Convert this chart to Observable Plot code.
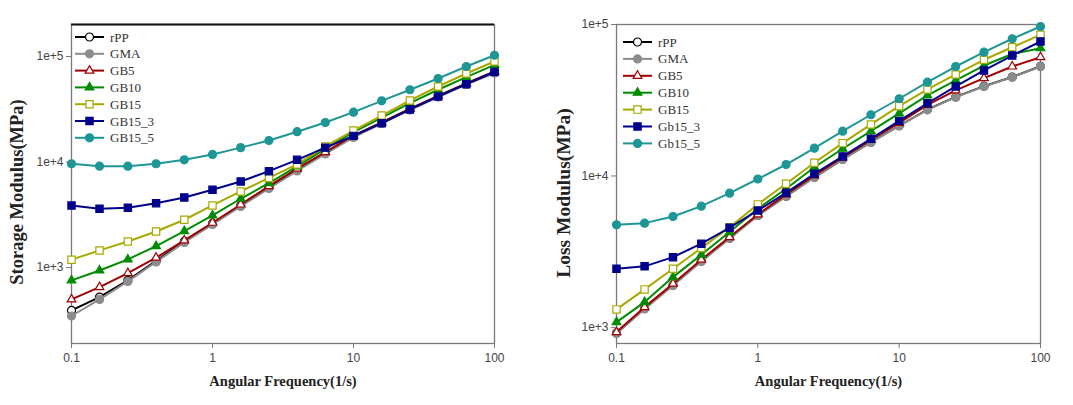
<!DOCTYPE html>
<html>
<head>
<meta charset="utf-8">
<script src="https://cdn.jsdelivr.net/npm/d3@7"></script>
<script src="https://cdn.jsdelivr.net/npm/@observablehq/plot@0.6"></script>
<style>
  html, body { margin: 0; padding: 0; background: #fff; }
  #wrap { position: relative; width: 1073px; height: 405px; display: flex; }
  .panel { position: relative; }
  .legend { position: absolute; left: 0; top: 0; pointer-events: none; }
</style>
</head>
<body>
<div id="wrap"></div>
<script>
// ---------- data ----------
const freq = [0.1, 0.158, 0.251, 0.398, 0.631, 1, 1.585, 2.512, 3.981, 6.31, 10, 15.85, 25.12, 39.81, 63.1, 100];

const storageNames = ["rPP", "GMA", "GB5", "GB10", "GB15", "GB15_3", "GB15_5"];
const storage_rPP    = [393, 526, 757, 1157, 1770, 2620, 3880, 5740, 8420, 12200, 17700, 23700, 31800, 42300, 55500, 72100];
const storage_GMA    = [348, 500, 740, 1132, 1733, 2566, 3800, 5620, 8240, 11940, 17100, 23200, 31100, 41300, 54300, 69800];
const storage_GB5    = [500, 653, 887, 1241, 1810, 2660, 3960, 5910, 8650, 12400, 17900, 23600, 31800, 42200, 55200, 72000];
const storage_GB10   = [757, 940, 1196, 1600, 2220, 3120, 4490, 6310, 9090, 13360, 19200, 26300, 36100, 48400, 63700, 83400];
const storage_GB15   = [1189, 1455, 1770, 2200, 2840, 3880, 5270, 7070, 9490, 14060, 19900, 27600, 38300, 52000, 69000, 89700];
const storage_GB15_3 = [3880, 3610, 3690, 4080, 4620, 5470, 6550, 8200, 10500, 13700, 17700, 23300, 31500, 41800, 54700, 71300];
const storage_GB15_5 = [9640, 9140, 9140, 9640, 10500, 11800, 13700, 16000, 19400, 23700, 29700, 38000, 48400, 61900, 80400, 102800];

const lossNames = ["rPP", "GMA", "GB5", "GB10", "GB15", "Gb15_3", "Gb15_5"];
const loss_rPP    = [920, 1335, 1900, 2740, 3880, 5490, 7340, 9800, 12880, 16700, 21450, 27450, 33250, 39150, 45000, 53000];
const loss_GMA    = [912, 1325, 1893, 2727, 3868, 5486, 7320, 9780, 12840, 16650, 21380, 27350, 33130, 38960, 44900, 52800];
const loss_GB5    = [931, 1361, 1943, 2800, 3950, 5570, 7550, 10080, 13240, 17280, 22390, 29500, 36700, 44200, 52800, 60800];
const loss_GB10   = [1084, 1469, 2148, 3020, 4260, 6070, 8230, 11420, 15120, 19760, 25860, 34000, 42700, 53600, 63900, 69700];
const loss_GB15   = [1315, 1782, 2440, 3340, 4590, 6490, 8890, 12220, 16470, 21880, 28900, 37240, 46800, 58500, 70800, 85500];
const loss_Gb15_3 = [2440, 2530, 2910, 3570, 4550, 5920, 7740, 10340, 13450, 17600, 23100, 30200, 39000, 49700, 62400, 77200];
const loss_Gb15_5 = [4760, 4880, 5400, 6320, 7700, 9550, 11900, 15250, 19760, 25360, 32340, 41600, 52800, 65700, 80500, 97000];

const xTicks = [0.1, 1, 10, 100];
const xTickLabels = ["0.1", "1", "10", "100"];
const yTicks = [1e3, 1e4, 1e5];
const yTickLabels = ["1e+3", "1e+4", "1e+5"];

const xTitle = "Angular Frequency(1/s)";
const yTitleLeft = "Storage Modulus(MPa)";
const yTitleRight = "Loss Modulus(MPa)";

// ---------- styles ----------
const styles = [
  {color: "#000000", symbol: "circle",   fill: "#ffffff"},
  {color: "#8c8c8c", symbol: "circle",   fill: "#8c8c8c"},
  {color: "#a00000", symbol: "triangle", fill: "#ffffff"},
  {color: "#008c00", symbol: "triangle", fill: "#008c00"},
  {color: "#a8a800", symbol: "square",   fill: "#ffffff"},
  {color: "#00008c", symbol: "square",   fill: "#00008c"},
  {color: "#1e9696", symbol: "circle",   fill: "#1e9696"}
];
const symR = {circle: 4, triangle: 3.2, square: 4.1};

function buildRows(names, arrays) {
  const out = [];
  names.forEach((n, i) => arrays[i].forEach((v, j) => out.push({series: n, idx: i, x: freq[j], y: v})));
  return out;
}

function panel(cfg) {
  const rows = buildRows(cfg.names, cfg.arrays);
  const marks = [
    Plot.frame({stroke: "#7a7a7a", strokeWidth: 1.3})
  ];
  if (cfg.topBlack) marks.push(Plot.ruleY([cfg.yDomain[1]], {stroke: "#111", strokeWidth: 2.2}));
  cfg.names.forEach((n, i) => {
    const d = rows.filter(r => r.idx === i);
    const s = styles[i];
    marks.push(Plot.line(d, {x: "x", y: "y", stroke: s.color, strokeWidth: 2}));
    marks.push(Plot.dot(d, {x: "x", y: "y", symbol: () => s.symbol, r: symR[s.symbol], fill: s.fill, stroke: s.color, strokeWidth: 1.2}));
  });
  marks.push(Plot.axisX({ticks: xTicks, tickFormat: (d, i) => xTickLabels[xTicks.indexOf(d)], tickSize: 5, tickPadding: 5, label: null, stroke: "#7a7a7a", fill: "#444"}));
  marks.push(Plot.axisY({ticks: yTicks, tickFormat: d => yTickLabels[yTicks.indexOf(d)], tickSize: 5, tickPadding: 3, label: null, stroke: "#7a7a7a", fill: "#444"}));
  marks.push(Plot.text([xTitle], {frameAnchor: "bottom", dy: 42, text: d => d, fontFamily: "Liberation Serif", fontWeight: "bold", fontSize: 14.5, fill: "#222"}));
  marks.push(Plot.text([cfg.yTitle], {frameAnchor: "left", textAnchor: "middle", dx: cfg.yTitleDx, dy: cfg.yTitleDy, rotate: -90, text: d => d, fontFamily: "Liberation Serif", fontWeight: "bold", fontSize: cfg.yTitleSize, fill: "#222"}));
  const chart = Plot.plot({
    width: cfg.width, height: 405,
    marginLeft: cfg.ml, marginRight: cfg.mr, marginTop: 24, marginBottom: 62,
    style: {fontFamily: "Liberation Sans, Arial, sans-serif", fontSize: "12px", background: "#fff", overflow: "visible"},
    x: {type: "log", domain: [0.1, 100]},
    y: {type: "log", domain: cfg.yDomain},
    marks
  });
  const div = document.createElement("div");
  div.className = "panel";
  div.style.width = cfg.width + "px";
  div.appendChild(chart);

  // legend overlay
  const lg = d3.select(div).append("svg").attr("class", "legend")
    .attr("width", cfg.width).attr("height", 405);
  cfg.names.forEach((n, i) => {
    const s = styles[i];
    const y = cfg.legY + i * cfg.legStep;
    const g = lg.append("g");
    g.append("line").attr("x1", cfg.legX).attr("x2", cfg.legX + 29).attr("y1", y).attr("y2", y)
      .attr("stroke", s.color).attr("stroke-width", 2);
    const area = Math.PI * symR[s.symbol] ** 2;
    const sym = s.symbol === "circle" ? d3.symbolCircle : s.symbol === "square" ? d3.symbolSquare : d3.symbolTriangle;
    g.append("path").attr("d", d3.symbol(sym, area)())
      .attr("transform", `translate(${cfg.legX + 14.5},${y})`)
      .attr("fill", s.fill).attr("stroke", s.color).attr("stroke-width", 1.2);
    g.append("text").attr("x", cfg.legX + 35).attr("y", y).attr("dy", "0.35em")
      .attr("font-family", "Liberation Serif").attr("font-size", 13).attr("fill", "#333").text(n);
  });
  return div;
}

const wrap = document.getElementById("wrap");
wrap.appendChild(panel({
  names: storageNames,
  arrays: [storage_rPP, storage_GMA, storage_GB5, storage_GB10, storage_GB15, storage_GB15_3, storage_GB15_5],
  yDomain: [191, 201000], width: 536, ml: 71, mr: 42, topBlack: true,
  yTitle: yTitleLeft, yTitleDx: -54, yTitleDy: 8, yTitleSize: 18.5, legX: 75, legY: 37, legStep: 16.8
}));
wrap.appendChild(panel({
  names: lossNames,
  arrays: [loss_rPP, loss_GMA, loss_GB5, loss_GB10, loss_GB15, loss_Gb15_3, loss_Gb15_5],
  yDomain: [783, 100000], width: 537, ml: 80, mr: 33, topBlack: false,
  yTitle: yTitleRight, yTitleDx: -53, yTitleDy: 9, yTitleSize: 19.5, legX: 87, legY: 42, legStep: 16.9
}));
</script>
</body>
</html>
